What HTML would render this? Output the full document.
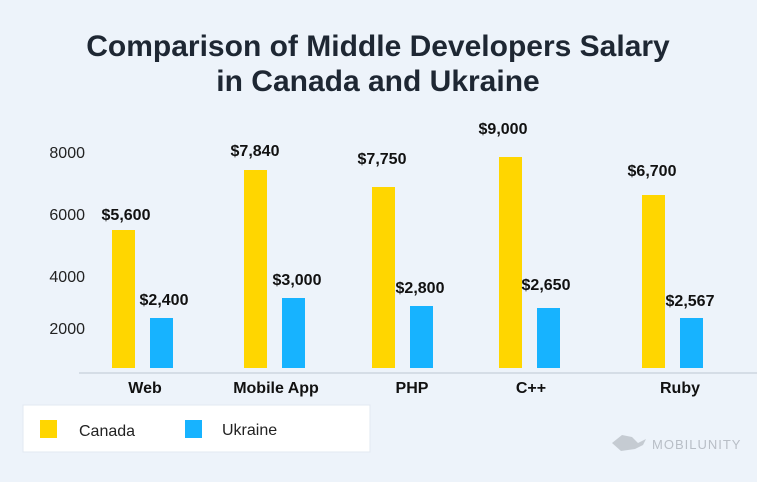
<!DOCTYPE html>
<html><head><meta charset="utf-8"><style>
body{margin:0;width:757px;height:477px;background:#edf3fa;overflow:hidden;font-family:"Liberation Sans",sans-serif}
</style></head><body>
<svg width="757" height="477" xmlns="http://www.w3.org/2000/svg" font-family="Liberation Sans, sans-serif">
<text x="378" y="56" text-anchor="middle" font-size="30" font-weight="bold" fill="#1e2733">Comparison of Middle Developers Salary</text>
<text x="378" y="91" text-anchor="middle" font-size="30" font-weight="bold" fill="#1e2733">in Canada and Ukraine</text>
<g font-size="16" fill="#222" text-anchor="end">
<text x="85" y="158">8000</text><text x="85" y="220">6000</text><text x="85" y="282">4000</text><text x="85" y="334">2000</text>
</g>
<line x1="79" y1="373" x2="757" y2="373" stroke="#d5dde6" stroke-width="2"/>
<g fill="#FFD600">
<rect x="112" y="230" width="23" height="138"/><rect x="244" y="170" width="23" height="198"/>
<rect x="372" y="187" width="23" height="181"/><rect x="499" y="157" width="23" height="211"/>
<rect x="642" y="195" width="23" height="173"/>
</g>
<g fill="#17B3FF">
<rect x="150" y="318" width="23" height="50"/><rect x="282" y="298" width="23" height="70"/>
<rect x="410" y="306" width="23" height="62"/><rect x="537" y="308" width="23" height="60"/>
<rect x="680" y="318" width="23" height="50"/>
</g>
<g font-size="16" font-weight="bold" fill="#111" text-anchor="middle">
<text x="126" y="220">$5,600</text><text x="164" y="305">$2,400</text>
<text x="255" y="156">$7,840</text><text x="297" y="285">$3,000</text>
<text x="382" y="164">$7,750</text><text x="420" y="293">$2,800</text>
<text x="503" y="134">$9,000</text><text x="546" y="290">$2,650</text>
<text x="652" y="176">$6,700</text><text x="690" y="306">$2,567</text>
<text x="145" y="393">Web</text><text x="276" y="393">Mobile App</text><text x="412" y="393">PHP</text>
<text x="531" y="393">C++</text><text x="680" y="393">Ruby</text>
</g>
<rect x="23" y="405" width="347" height="47" fill="#fff" stroke="#e2e9f1"/>
<rect x="40" y="420" width="17" height="18" fill="#FFD600"/>
<text x="79" y="436" font-size="16" fill="#222">Canada</text>
<rect x="185" y="420" width="17" height="18" fill="#17B3FF"/>
<text x="222" y="435" font-size="16" fill="#222">Ukraine</text>
<path d="M612 443 l10 -8 l10 2 l6 6 l8 -4 l-3 6 l-8 4 l-14 2 z" fill="#c5cbd2"/>
<text x="652" y="449" font-size="13" fill="#b8bec6" letter-spacing="1">MOBILUNITY</text>
</svg>
</body></html>
